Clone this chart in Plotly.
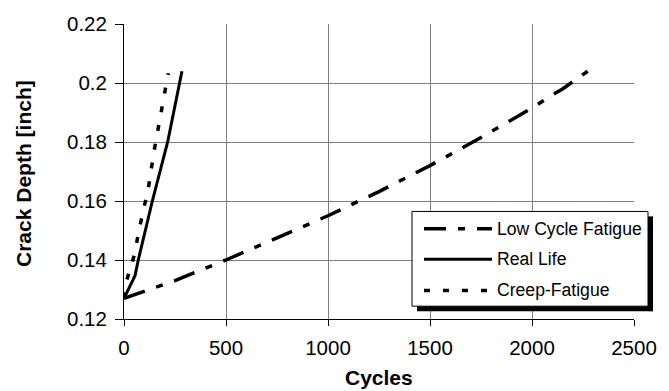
import plotly.graph_objects as go

# Crack growth curves: cycles vs. crack depth
lcf_cycles = [0, 100, 250, 390, 500, 750, 1000, 1250, 1500, 1750, 2000, 2100, 2150, 2273]
lcf_depth = [0.127, 0.1295, 0.133, 0.137, 0.140, 0.1475, 0.155, 0.1632, 0.172, 0.1815, 0.1915, 0.196, 0.198, 0.204]

real_cycles = [0, 54, 70, 103, 139, 214, 275, 284]
real_depth = [0.127, 0.1347, 0.140, 0.150, 0.160, 0.180, 0.200, 0.204]

creep_cycles = [0, 13, 54, 70, 92, 119, 147, 181, 217]
creep_depth = [0.127, 0.133, 0.1425, 0.149, 0.1559, 0.1642, 0.1768, 0.1899, 0.2033]

series_names = ["Low Cycle Fatigue", "Real Life", "Creep-Fatigue"]
x_ticks = [0, 500, 1000, 1500, 2000, 2500]
y_ticks = [0.12, 0.14, 0.16, 0.18, 0.20, 0.22]
y_tick_text = ["0.12", "0.14", "0.16", "0.18", "0.2", "0.22"]

W, H = 669, 391
ML, MR, MT, MB = 124, 35, 20, 72
PW, PH = W - ML - MR, H - MT - MB

FONT = "Arial, Liberation Sans, sans-serif"

styles = [
    dict(color="black", width=3.5, dash="22px,12px,7px,12px"),
    dict(color="black", width=3, dash="solid"),
    dict(color="black", width=3.5, dash="6px,13px"),
]


def px_x(p):
    return (p - ML) / PW


def px_y(p):
    return (H - MB - p) / PH


def paper_line(x0, y0, x1, y1, line):
    return dict(type="line", xref="paper", yref="paper",
                x0=px_x(x0), x1=px_x(x1), y0=px_y(y0), y1=px_y(y1), line=line, layer="above")


fig = go.Figure()
for xs, ys, name, st in zip(
    [lcf_cycles, real_cycles, creep_cycles],
    [lcf_depth, real_depth, creep_depth],
    series_names,
    styles,
):
    fig.add_trace(go.Scatter(x=xs, y=ys, mode="lines", name=name, line=st,
                             showlegend=False))

shapes = []
annotations = []

# legend box with a drop shadow along its right and bottom sides
bx0, by0, bx1, by1 = 412, 210, 648, 306
SH = 5
shapes.append(dict(type="rect", xref="paper", yref="paper",
                   x0=px_x(bx0), x1=px_x(bx1), y0=px_y(by1), y1=px_y(by0),
                   fillcolor="white", line=dict(color="black", width=1), layer="above"))
shadow = dict(color="black", width=SH)
shapes.append(paper_line(bx1 + SH / 2, by0 + SH, bx1 + SH / 2, by1 + SH, shadow))
shapes.append(paper_line(bx0 + SH, by1 + SH / 2, bx1 + SH, by1 + SH / 2, shadow))

row_y = [227.5, 258.5, 290]
for ry, name, st in zip(row_y, series_names, styles):
    shapes.append(paper_line(424, ry, 492, ry, st))
    annotations.append(dict(text=name, xref="paper", yref="paper",
                            x=px_x(495), y=px_y(ry), xanchor="left", yanchor="middle",
                            showarrow=False, font=dict(family=FONT, size=17.6, color="black")))

# axis titles
annotations.append(dict(text="<b>Cycles</b>", xref="paper", yref="paper",
                        x=px_x(379), y=px_y(378), xanchor="center", yanchor="middle",
                        showarrow=False, font=dict(family=FONT, size=21, color="black")))
annotations.append(dict(text="<b>Crack Depth [inch]</b>", xref="paper", yref="paper",
                        x=px_x(24), y=px_y(172), xanchor="center", yanchor="middle",
                        textangle=-90, showarrow=False,
                        font=dict(family=FONT, size=21, color="black")))

fig.update_layout(
    width=W, height=H,
    margin=dict(l=ML, r=MR, t=MT, b=MB, pad=0),
    paper_bgcolor="white", plot_bgcolor="white",
    font=dict(family=FONT, size=20.5, color="black"),
    shapes=shapes, annotations=annotations,
    showlegend=False,
)
fig.update_xaxes(range=[0, 2500], tickvals=x_ticks, showgrid=True, gridcolor="#7f7f7f",
                 gridwidth=1, showline=True, linecolor="black", linewidth=1,
                 ticks="outside", ticklen=6, tickcolor="black", zeroline=False,
                 ticklabelstandoff=4)
fig.update_yaxes(range=[0.12, 0.22], tickvals=y_ticks, ticktext=y_tick_text, showgrid=True,
                 gridcolor="#7f7f7f", gridwidth=1, showline=True, linecolor="black",
                 linewidth=1, ticks="outside", ticklen=8, tickcolor="black", zeroline=False,
                 ticklabelstandoff=4)

fig.write_html("out.html")
